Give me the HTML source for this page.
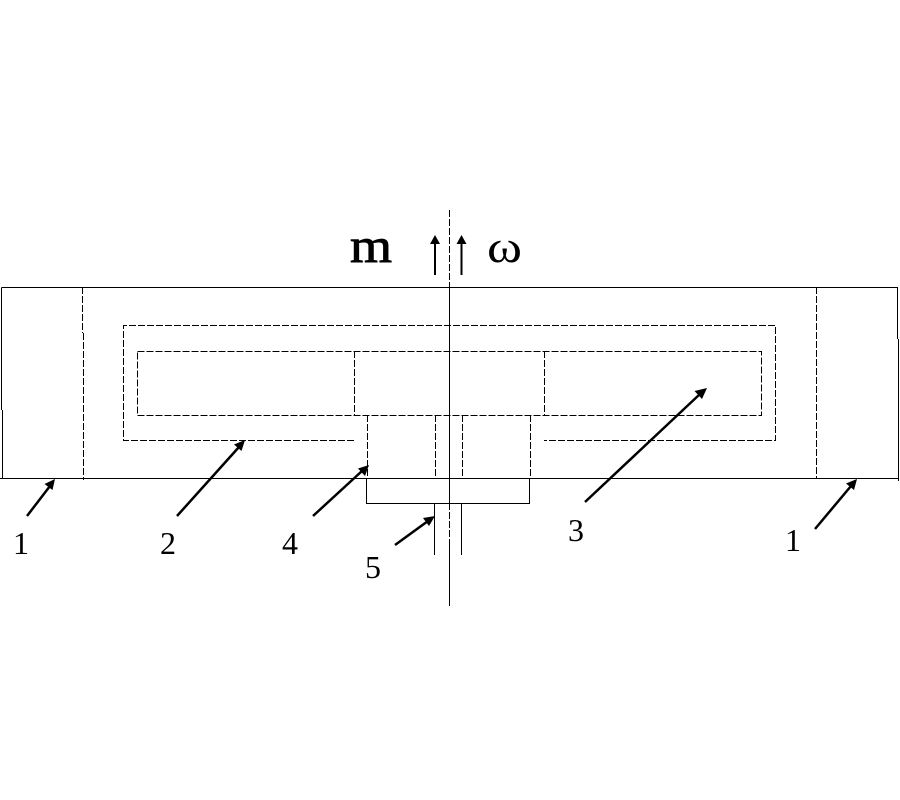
<!DOCTYPE html>
<html>
<head>
<meta charset="utf-8">
<style>
html,body{margin:0;padding:0;background:#fff;width:900px;height:800px;overflow:hidden}
svg{display:block}
text{font-family:"Liberation Serif",serif;fill:#000}
</style>
</head>
<body>
<svg width="900" height="800" viewBox="0 0 900 800" xmlns="http://www.w3.org/2000/svg">
<rect width="900" height="800" fill="#fff"/>
<g fill="none" stroke="#000" stroke-width="1">
  <!-- outer solid -->
  <path d="M1.5 287.500H897.500V339M898.500 339V481M1.500 287.500V410M2.500 410V479M0 478.500H898"/>
  <!-- shaft solid -->
  <path d="M449.500 287V503M449.500 540V606"/>
  <path d="M366.500 478V503.500H529.500V478"/>
  <path d="M434.500 503V555M461.500 503V555"/>
  <!-- dashed -->
  <g stroke-dasharray="7 2">
    <path d="M449.500 210V287M449.500 503V540"/>
    <path d="M82.500 287V333M83.500 333V480M816.500 287V478"/>
    <path d="M354 440.500H123.500V325.500H775.500V440.500H544"/>
    <path d="M137.500 351.500H761.500V415.500H137.500Z"/>
    <path d="M354.500 351V415M544.500 351V415"/>
    <path d="M367.500 415V478M435.500 415V478M462.500 415V478M530.500 415V478"/>
  </g>
</g>
<!-- vertical arrows -->
<g stroke="#000" stroke-width="2" fill="#000">
  <path d="M435 275V243M461.500 275V243" fill="none"/>
</g>
<path d="M435 235L430 244H440Z M461.500 235L456.500 244H466.500Z" fill="#000"/>
<!-- leader arrows -->
<g stroke="#000" stroke-width="2.500" fill="none">
  <path d="M27 516L50 486"/>
  <path d="M177 516L239 447"/>
  <path d="M313 516L362 471"/>
  <path d="M395 545L428 521"/>
  <path d="M585 502L700 394"/>
  <path d="M815 529L851 486"/>
</g>
<g fill="#000">
  <path d="M55 479L52.500 490L44.500 484Z"/>
  <path d="M245 440L241.500 451L234 444.500Z"/>
  <path d="M369 465L365 476L358 468.500Z"/>
  <path d="M435 516L429 526L423 518Z"/>
  <path d="M707 388L702 399L694.500 391Z"/>
  <path d="M857 479L854 490L846 483.500Z"/>
</g>
<!-- labels -->
<text x="350" y="262" font-size="49" stroke="#000" stroke-width="0.900" textLength="42" lengthAdjust="spacingAndGlyphs">m</text>
<text x="487" y="262" font-size="46" font-family="'DejaVu Serif','Liberation Serif',serif" textLength="35" lengthAdjust="spacingAndGlyphs">ω</text>
<g font-size="32">
  <text x="13" y="554">1</text>
  <text x="160" y="554">2</text>
  <text x="282" y="554">4</text>
  <text x="365" y="578">5</text>
  <text x="568" y="541">3</text>
  <text x="785" y="551">1</text>
</g>
</svg>
</body>
</html>
